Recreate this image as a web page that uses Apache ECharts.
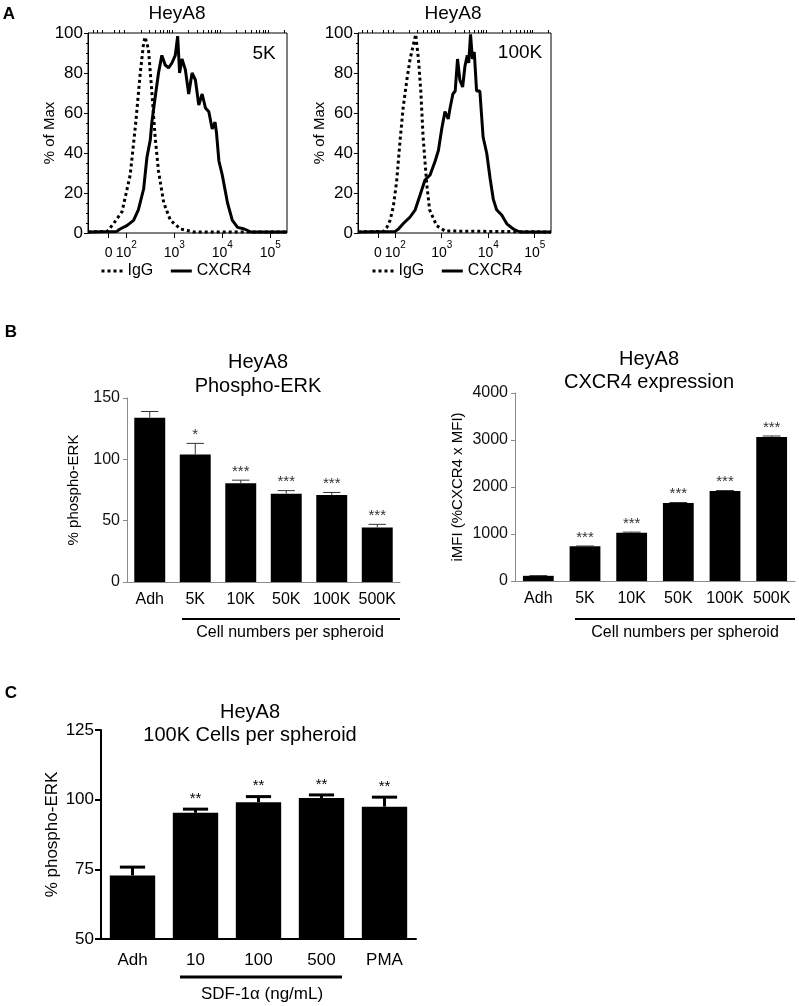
<!DOCTYPE html>
<html>
<head>
<meta charset="utf-8">
<script src="https://cdn.jsdelivr.net/npm/echarts@6/dist/echarts.min.js"></script>
<style>
  html, body { margin: 0; padding: 0; background: #fff; }
  #main { width: 799px; height: 1006px; }
</style>
</head>
<body>
<div id="main"></div>
<script>
const FONT = 'Liberation Sans, Arial, Helvetica, sans-serif';

// ---- panel A : flow histograms (x = log10 fluorescence, biexponential display) ----
const histTickPos = [1.63, 2, 3, 4, 5];
const histTickBase = ['0', '10', '10', '10', '10'];
const histTickExp = ['', '2', '3', '4', '5'];

const igg5k = [[1.2,0.5],[1.6,0.8],[1.73,4.6],[1.91,10.7],[2.08,29],[2.19,53.7],[2.29,80],[2.36,95],[2.39,98],
  [2.46,92],[2.53,71],[2.6,48],[2.67,31],[2.78,15],[2.92,6.3],[3.13,2],[3.41,0.5],[5.35,0.5]];
const cxcr5k = [[1.2,0.5],[1.8,0.8],[1.87,2],[2.01,3.7],[2.15,6.3],[2.25,11.6],[2.36,22],[2.43,38],[2.5,46.7],
  [2.53,55],[2.6,67.7],[2.67,80],[2.74,88.8],[2.81,84],[2.88,82.6],[2.95,85],[3.02,88.8],[3.07,98.4],[3.11,80],
  [3.16,87],[3.23,81.7],[3.3,69.5],[3.37,80],[3.44,76.5],[3.51,64],[3.58,69.5],[3.65,62.5],[3.72,60.6],[3.79,52],
  [3.85,55.4],[3.88,50],[3.93,36],[4.0,29],[4.11,15],[4.21,6.3],[4.32,2.8],[4.46,2],[4.6,0.5],[5.35,0.5]];
const igg100k = [[1.2,0.5],[1.75,0.8],[1.82,2.8],[1.89,6.3],[1.96,13.3],[2.03,25.6],[2.1,45],[2.17,62.5],[2.25,76.5],
  [2.32,87],[2.39,94],[2.44,99.3],[2.5,87],[2.55,71],[2.6,48],[2.68,24],[2.74,11.6],[2.89,3.7],[3.07,1],[5.35,0.5]];
const cxcr100k = [[1.2,0.5],[2.0,0.8],[2.07,2],[2.17,4.6],[2.32,8],[2.43,11.6],[2.53,18.6],[2.64,26.5],[2.75,29],
  [2.86,36],[2.93,41.4],[3.0,52],[3.07,60.7],[3.14,57],[3.18,62.5],[3.24,69.5],[3.29,71],[3.34,87],[3.39,76.5],
  [3.45,73],[3.5,83.5],[3.55,88.8],[3.58,85],[3.62,99.3],[3.66,87],[3.7,90.5],[3.75,71],[3.82,71],[3.89,48],
  [3.97,39.6],[4.04,27.4],[4.11,16.8],[4.18,11.6],[4.29,9],[4.4,4.6],[4.54,2],[4.68,0.5],[5.35,0.5]];

// ---- panel B ----
const bCats = ['Adh', '5K', '10K', '50K', '100K', '500K'];
const erkMean = [134, 104, 80.5, 72, 71, 44.5];
const erkErr = [139, 113, 83, 74.5, 73, 47];
const erkSig = ['', '*', '***', '***', '***', '***'];
const cxcrMean = [110, 740, 1025, 1660, 1915, 3065];
const cxcrErr = [115, 745, 1040, 1670, 1925, 3085];
const cxcrSig = ['', '***', '***', '***', '***', '***'];

// ---- panel C ----
const cCats = ['Adh', '10', '100', '500', 'PMA'];
const cMean = [72.8, 95.3, 99.1, 100.6, 97.5];
const cErr = [75.8, 96.6, 101.1, 101.7, 100.9];
const cSig = ['', '**', '**', '**', '**'];

// minor ticks of the log axis
const minorPos = [1.3, 1.4, 1.5, 1.75, 1.85, 1.95];
for (let n = 2; n <= 5; n++) {
  for (let k = 2; k <= 9; k++) {
    const v = n + Math.log10(k);
    if (v < 5.35) minorPos.push(v);
  }
}

function histAxes(gi) {
  return [
    {
      type: 'value', gridIndex: gi, min: 1.2, max: 5.35,
      axisLine: { show: false }, splitLine: { show: false },
      axisTick: { show: true, customValues: histTickPos, length: 5, lineStyle: { color: '#000' } },
      axisLabel: {
        customValues: histTickPos, margin: 7, color: '#000',
        formatter: v => {
          let i = 0;
          histTickPos.forEach((p, j) => { if (Math.abs(p - v) < Math.abs(histTickPos[i] - v)) i = j; });
          return histTickExp[i] ? '{b|' + histTickBase[i] + '}{s|' + histTickExp[i] + '}' : '{b|' + histTickBase[i] + '}';
        },
        rich: {
          b: { fontSize: 14, fontFamily: FONT, lineHeight: 20, verticalAlign: 'bottom' },
          s: { fontSize: 10, fontFamily: FONT, verticalAlign: 'top' }
        }
      }
    },
    {
      type: 'value', gridIndex: gi, min: 1.2, max: 5.35,
      axisLine: { show: false }, splitLine: { show: false },
      axisTick: { show: true, customValues: minorPos, length: 3, lineStyle: { color: '#000' } },
      axisLabel: { show: false }
    }
  ];
}

function histY(gi) {
  return {
    type: 'value', gridIndex: gi, min: 0, max: 100, interval: 20,
    name: '% of Max', nameLocation: 'middle', nameGap: 31, nameMoveOverlap: false,
    nameTextStyle: { fontSize: 15, color: '#000', fontFamily: FONT },
    axisLine: { show: true, lineStyle: { color: '#000' } },
    axisTick: { show: true, length: 4, lineStyle: { color: '#000' } },
    minorTick: { show: true, splitNumber: 4, length: 2, lineStyle: { color: '#000' } },
    splitLine: { show: false },
    axisLabel: { fontSize: 17, color: '#000', margin: 5 }
  };
}

function histSeries(name, data, xi, yi, dotted) {
  return {
    name: name, type: 'line', xAxisIndex: xi, yAxisIndex: yi, data: data,
    symbol: 'none', smooth: false, z: dotted ? 3 : 4,
    lineStyle: { color: '#000', width: 3, type: dotted ? [3, 3] : 'solid' },
    itemStyle: { color: '#000' }
  };
}

function barSeries(xi, yi, data, width) {
  return {
    type: 'bar', xAxisIndex: xi, yAxisIndex: yi, data: data, barWidth: width,
    itemStyle: { color: '#000' }, z: 2
  };
}

function errSeries(xi, yi, means, errs, sig, st) {
  return {
    type: 'custom', xAxisIndex: xi, yAxisIndex: yi, z: 5,
    data: means.map((m, i) => [i, m, errs[i]]),
    encode: { x: 0, y: [1, 2] },
    renderItem: (params, api) => {
      const i = api.value(0);
      const p0 = api.coord([i, api.value(1)]);
      const p1 = api.coord([i, api.value(2)]);
      const half = api.size([1, 0])[0] * st.cap / 2;
      const ls = { stroke: st.color, lineWidth: st.width };
      const children = [
        { type: 'line', shape: { x1: p0[0], y1: p0[1], x2: p1[0], y2: p1[1] }, style: ls },
        { type: 'line', shape: { x1: p1[0] - half, y1: p1[1], x2: p1[0] + half, y2: p1[1] }, style: ls }
      ];
      const s = sig[params.dataIndex];
      if (s) {
        children.push({
          type: 'text', x: p1[0], y: p1[1] - st.gap,
          style: { text: s, align: 'center', verticalAlign: 'bottom', fontSize: st.starSize, fontFamily: FONT, fill: st.starColor }
        });
      }
      return { type: 'group', children: children };
    }
  };
}

function catAxis(gi, cats, c) {
  return {
    type: 'category', gridIndex: gi, data: cats, boundaryGap: true,
    axisLine: { lineStyle: { color: c.line, width: c.lw } },
    axisTick: { alignWithLabel: true, length: c.tick, lineStyle: { color: c.line, width: c.lw } },
    axisLabel: { interval: 0, fontSize: c.fs, color: '#000', margin: c.margin, fontFamily: FONT },
    splitLine: { show: false }
  };
}

function valAxis(gi, min, max, interval, name, gap, c) {
  return {
    type: 'value', gridIndex: gi, min: min, max: max, interval: interval,
    name: name, nameLocation: 'middle', nameGap: gap,
    nameTextStyle: { fontSize: c.nfs, color: '#000', fontFamily: FONT },
    axisLine: { show: true, lineStyle: { color: c.line, width: c.lw } },
    axisTick: { show: true, length: c.tick, lineStyle: { color: c.line, width: c.lw } },
    axisLabel: { fontSize: c.fs, color: c.lab, margin: 7, fontFamily: FONT, formatter: v => String(v) },
    splitLine: { show: false }
  };
}

function txt(text, x, y, size, extra) {
  return {
    type: 'text', x: x, y: y, z: 100,
    style: Object.assign({ text: text, fontSize: size, fontFamily: FONT, fill: '#000', align: 'center', verticalAlign: 'middle' }, extra || {})
  };
}
function hline(x1, x2, y, w) {
  return { type: 'line', z: 100, shape: { x1: x1, y1: y, x2: x2, y2: y }, style: { stroke: '#000', lineWidth: w } };
}

function histLegend(left) {
  return {
    left: left, top: 263, padding: 0, itemWidth: 21, itemHeight: 14, itemGap: 16,
    data: ['IgG', 'CXCR4'], selectedMode: false,
    itemStyle: { opacity: 0 },
    lineStyle: { width: 3 },
    textStyle: { fontSize: 16, color: '#000', fontFamily: FONT }
  };
}

const bStyle = { line: '#8a8a8a', lw: 1, tick: 4, fs: 16, margin: 10, nfs: 15, lab: '#111' };
const cStyle = { line: '#000', lw: 2, tick: 6, fs: 17, margin: 13, nfs: 17, lab: '#000' };

const chart = echarts.init(document.getElementById('main'), null, { renderer: 'canvas' });

chart.setOption({
  animation: false,
  backgroundColor: '#fff',
  textStyle: { fontFamily: FONT },
  grid: [
    { left: 88, top: 33, width: 199, height: 200, show: true, borderColor: '#000', borderWidth: 1, backgroundColor: 'transparent' },
    { left: 358, top: 33, width: 193, height: 200, show: true, borderColor: '#000', borderWidth: 1, backgroundColor: 'transparent' },
    { left: 127, top: 398, width: 273, height: 184 },
    { left: 515, top: 393, width: 280, height: 188 },
    { left: 101, top: 730, width: 315, height: 209 }
  ],
  xAxis: [
    ...histAxes(0),
    ...histAxes(1),
    catAxis(2, bCats, bStyle),
    catAxis(3, bCats, bStyle),
    catAxis(4, cCats, cStyle)
  ],
  yAxis: [
    histY(0),
    histY(1),
    valAxis(2, 0, 150, 50, '% phospho-ERK', 46, bStyle),
    valAxis(3, 0, 4000, 1000, 'iMFI (%CXCR4 x MFI)', 50, bStyle),
    valAxis(4, 50, 125, 25, '% phospho-ERK', 40, cStyle)
  ],
  legend: [histLegend(100), histLegend(371)],
  series: [
    histSeries('IgG', igg5k, 0, 0, true),
    histSeries('CXCR4', cxcr5k, 0, 0, false),
    histSeries('IgG', igg100k, 2, 1, true),
    histSeries('CXCR4', cxcr100k, 2, 1, false),
    barSeries(4, 2, erkMean, '68%'),
    errSeries(4, 2, erkMean, erkErr, erkSig, { cap: 0.38, color: '#333', width: 1, gap: 1, starSize: 15, starColor: '#333' }),
    barSeries(5, 3, cxcrMean, '66%'),
    errSeries(5, 3, cxcrMean, cxcrErr, cxcrSig, { cap: 0.38, color: '#333', width: 1, gap: 1, starSize: 15, starColor: '#333' }),
    barSeries(6, 4, cMean, '72%'),
    errSeries(6, 4, cMean, cErr, cSig, { cap: 0.4, color: '#000', width: 3, gap: 3, starSize: 15, starColor: '#000' })
  ],
  graphic: [
    txt('A', 9, 14, 17, { fontWeight: 'bold' }),
    txt('HeyA8', 177, 14, 19),
    txt('HeyA8', 453, 14, 19),
    txt('5K', 264, 54, 19),
    txt('100K', 520, 53, 19),
    txt('B', 11, 332, 17, { fontWeight: 'bold' }),
    txt('HeyA8', 258, 362, 20),
    txt('Phospho-ERK', 258, 386, 20),
    txt('HeyA8', 649, 359, 20),
    txt('CXCR4 expression', 649, 382, 20),
    hline(182, 400, 619, 2),
    txt('Cell numbers per spheroid', 290, 633, 16),
    hline(575, 795, 619, 2),
    txt('Cell numbers per spheroid', 685, 633, 16),
    txt('C', 11, 693, 17, { fontWeight: 'bold' }),
    txt('HeyA8', 250, 712, 20),
    txt('100K Cells per spheroid', 250, 735, 20),
    hline(180, 342, 977, 3),
    txt('SDF-1α (ng/mL)', 262, 994, 17)
  ]
});
</script>
</body>
</html>
